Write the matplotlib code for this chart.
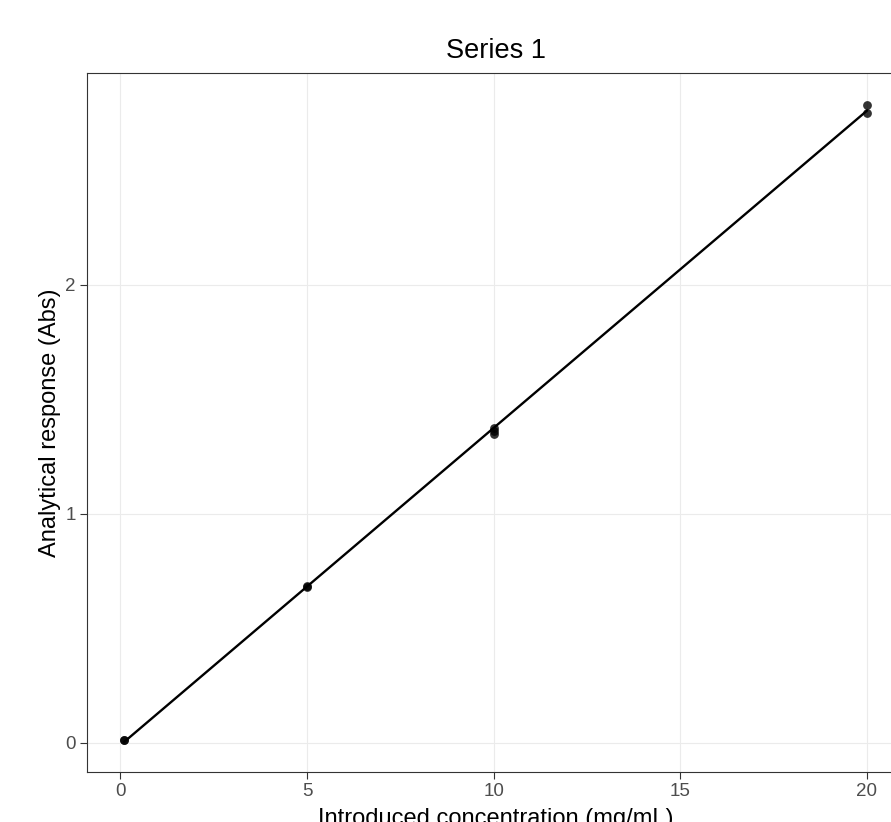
import numpy as np
import matplotlib
matplotlib.use("Agg")
import matplotlib.pyplot as plt

plt.rcParams['font.family'] = ['Liberation Sans', 'DejaVu Sans']

# calibration data
conc = [0.1, 0.1, 5, 5, 10, 10, 10, 20, 20]
response = [0.010, 0.012, 0.681, 0.683, 1.376, 1.362, 1.349, 2.786, 2.751]

x_ticks = [0, 5, 10, 15, 20]
y_ticks = [0, 1, 2]

W, H = 891, 822
fig = plt.figure(figsize=(W / 100, H / 100), dpi=100)
# panel extends a little past the right edge, like the cropped original
ax = fig.add_axes([87 / W, (H - 772) / H, (904 - 87) / W, (772 - 73) / H])

slope, intercept = np.polyfit(conc, response, 1)
xs = np.array([min(conc), max(conc)])
ax.plot(xs, intercept + slope * xs, color='black', lw=1.7, zorder=3)
ax.scatter(conc, response, s=40, color='black', alpha=0.8, lw=0, zorder=4)

xr = max(conc) - min(conc)
yr = max(response) - min(response)
ax.set_xlim(min(conc) - 0.05 * xr, max(conc) + 0.05 * xr)
ax.set_ylim(min(response) - 0.05 * yr, max(response) + 0.05 * yr)

ax.set_xticks(x_ticks)
ax.set_yticks(y_ticks)
ax.grid(True, color='#EBEBEB', lw=0.8)
ax.set_axisbelow(True)
for s in ax.spines.values():
    s.set_color('#333333')
    s.set_linewidth(0.8)
ax.tick_params(length=5, width=0.8, color='#333333', labelcolor='#4D4D4D',
               labelsize=13.5, pad=3)

ax.set_title('Series 1', fontsize=19.5, pad=11)
ax.set_xlabel('Introduced concentration (mg/mL)', fontsize=17, labelpad=6)
ax.set_ylabel('Analytical response (Abs)', fontsize=17, labelpad=3)

fig.savefig('out.png', dpi=100)
